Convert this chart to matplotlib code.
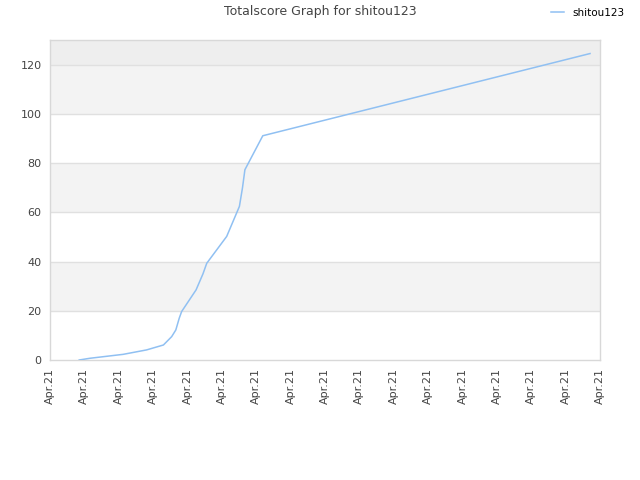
import matplotlib
matplotlib.use("Agg")
import matplotlib.pyplot as plt

# ── Data (x in tick-index units) ─────────────────────────────────────────────
x_vals = [0.85, 1.16, 2.13, 2.81, 3.30, 3.54, 3.66, 3.76, 3.83, 4.25,
          4.45, 4.56, 5.14, 5.51, 5.60, 5.67, 6.19, 15.71]
scores = [0.0, 0.7, 2.3, 4.1, 6.1, 9.5, 12.2, 17.0, 19.7, 28.5,
          35.0, 39.3, 50.2, 62.4, 70.0, 77.3, 91.1, 124.5]
tick_labels = ["Apr.21"] * 17
band_edges = [0, 20, 40, 60, 80, 100, 120, 130]

LINE = "#90c0f2"
GRID = "#e0e0e0"
TXT = "#444444"

fig = plt.figure(figsize=(6.4, 4.8), dpi=100)
ax = fig.add_axes([50 / 640, 1 - 360 / 480, 550 / 640, 320 / 480])

# alternating background bands
for i in range(len(band_edges) - 1):
    lo, hi = band_edges[i], band_edges[i + 1]
    if hi > 120:
        col = "#eeeeee"
    elif i % 2 == 1:
        col = "#f3f3f3"
    else:
        col = "white"
    ax.axhspan(lo, hi, color=col, zorder=0, lw=0)

for yv in band_edges[1:-1]:
    ax.axhline(yv, color=GRID, lw=1, zorder=1)

ax.plot(x_vals, scores, color=LINE, lw=1.1, zorder=3, label="shitou123")

ax.set_xlim(0, 16)
ax.set_ylim(0, 130)
ax.set_xticks(range(17))
ax.set_xticklabels(tick_labels, rotation=90, fontsize=8, color=TXT)
ax.set_yticks([0, 20, 40, 60, 80, 100, 120])
ax.tick_params(axis="y", labelsize=8, labelcolor=TXT)
ax.tick_params(length=0, pad=6)

for spine in ax.spines.values():
    spine.set_edgecolor("#d8d8d8")
    spine.set_linewidth(1)

fig.text(0.5, 1 - 12 / 480, "Totalscore Graph for shitou123", ha="center",
         va="center", fontsize=9, color="#444444")
fig.legend(loc="upper right", bbox_to_anchor=(0.99, 1.003), frameon=False,
           fontsize=7.5, handlelength=1.2, handletextpad=0.8)

fig.savefig("out.png", dpi=100)
